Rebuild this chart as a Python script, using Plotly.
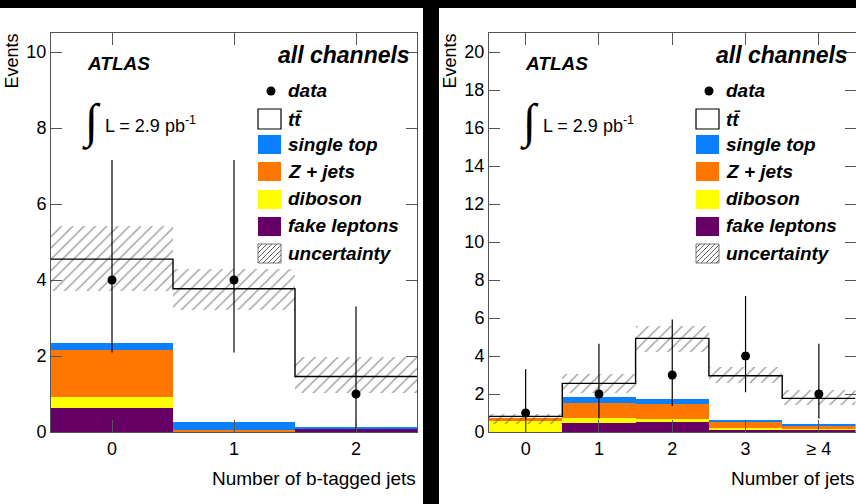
import plotly.graph_objects as go

W, H = 856, 504
FONT = "Liberation Sans, Arial, Helvetica, sans-serif"

# ---------------- data: left panel (number of b-tagged jets) ----------------
btag_bins = [0, 1, 2]
btag_ticktext = ["0", "1", "2"]
btag_data = [4, 4, 1]
btag_data_hi = [7.16, 7.16, 3.30]
btag_data_lo = [2.09, 2.09, 0.0]
btag_fake = [0.62, 0.02, 0.10]
btag_diboson = [0.30, 0.00, 0.00]
btag_zjets = [1.25, 0.04, 0.00]
btag_singletop = [0.16, 0.20, 0.03]
btag_ttbar = [2.22, 3.51, 1.33]
btag_unc_lo = [3.70, 3.21, 1.02]
btag_unc_hi = [5.43, 4.28, 1.98]

# ---------------- data: right panel (number of jets) ----------------
njet_bins = [0, 1, 2, 3, 4]
njet_ticktext = ["0", "1", "2", "3", "\u2265 4"]
njet_data = [1, 2, 3, 4, 2]
njet_data_hi = [3.30, 4.64, 5.92, 7.16, 4.64]
njet_data_lo = [0.0, 0.71, 1.37, 2.09, 0.71]
njet_fake = [0.02, 0.50, 0.52, 0.15, 0.12]
njet_diboson = [0.55, 0.25, 0.14, 0.08, 0.03]
njet_zjets = [0.20, 0.80, 0.80, 0.30, 0.20]
njet_singletop = [0.00, 0.30, 0.26, 0.10, 0.05]
njet_ttbar = [0.05, 0.71, 3.21, 2.33, 1.37]
njet_unc_lo = [0.42, 2.07, 4.19, 2.60, 1.40]
njet_unc_hi = [0.95, 3.03, 5.60, 3.40, 2.20]

legend_labels = ["data", "t\u0074\u0304", "single top", "Z + jets", "diboson", "fake leptons", "uncertainty"]

C_FAKE = "#660066"
C_DIB = "#FFFF00"
C_Z = "#FF7700"
C_ST = "#0A80FF"
FRAME = "#555555"

fig = go.Figure()


def add_panel(xa, ya, bins, data, hi, lo, comps, unc_lo, unc_hi):
    base = [0.0] * len(bins)
    for vals, col in comps:
        fig.add_trace(go.Bar(x=bins, y=vals, base=list(base), width=1.0,
                             marker=dict(color=col, line=dict(width=0)),
                             xaxis=xa, yaxis=ya, showlegend=False))
        base = [b + v for b, v in zip(base, vals)]
    total = base
    # uncertainty hatch
    fig.add_trace(go.Bar(x=bins, y=[h - l for h, l in zip(unc_hi, unc_lo)], base=unc_lo, width=1.0,
                         marker=dict(color="rgba(0,0,0,0)", line=dict(width=0),
                                     pattern=dict(shape="/", fgcolor="#3a3a3a", bgcolor="rgba(0,0,0,0)",
                                                  size=8, solidity=0.17, fillmode="overlay")),
                         xaxis=xa, yaxis=ya, showlegend=False))
    # total step line
    edges = [b - 0.5 for b in bins] + [bins[-1] + 0.5]
    fig.add_trace(go.Scatter(x=edges, y=total + [total[-1]], mode="lines",
                             line=dict(shape="hv", color="black", width=1.4),
                             xaxis=xa, yaxis=ya, showlegend=False, cliponaxis=True))
    # data
    fig.add_trace(go.Scatter(x=bins, y=data, mode="markers",
                             marker=dict(color="black", size=9),
                             error_y=dict(type="data", symmetric=False,
                                          array=[h - d for h, d in zip(hi, data)],
                                          arrayminus=[d - l for d, l in zip(data, lo)],
                                          color="black", thickness=1.2, width=0),
                             xaxis=xa, yaxis=ya, showlegend=False))


add_panel("x", "y", btag_bins, btag_data, btag_data_hi, btag_data_lo,
          [(btag_fake, C_FAKE), (btag_diboson, C_DIB), (btag_zjets, C_Z), (btag_singletop, C_ST),
           (btag_ttbar, "white")], btag_unc_lo, btag_unc_hi)
add_panel("x2", "y2", njet_bins, njet_data, njet_data_hi, njet_data_lo,
          [(njet_fake, C_FAKE), (njet_diboson, C_DIB), (njet_zjets, C_Z), (njet_singletop, C_ST),
           (njet_ttbar, "white")], njet_unc_lo, njet_unc_hi)


def px(x):
    return x / W


def py(y):
    return 1 - y / H


shapes = []
annotations = []

# white panels
shapes.append(dict(type="rect", xref="paper", yref="paper", x0=-0.05, x1=px(423), y0=-0.05, y1=py(8),
                   fillcolor="white", line=dict(width=0), layer="below"))
shapes.append(dict(type="rect", xref="paper", yref="paper", x0=px(439), x1=1.05, y0=-0.05, y1=py(8),
                   fillcolor="white", line=dict(width=0), layer="below"))


def panel_decor(off, xtitle, xtitle_right):
    annotations.append(dict(text="<b><i>ATLAS</i></b>", x=px(85 + off), y=py(63), xanchor="left", yanchor="middle",
                            font=dict(size=19, family=FONT, color="black"), showarrow=False,
                            xref="paper", yref="paper"))
    annotations.append(dict(text="<b><i>all channels</i></b>", x=px(412 + off), y=py(55), xanchor="right",
                            yanchor="middle", font=dict(size=23, family=FONT, color="black"), showarrow=False,
                            xref="paper", yref="paper"))
    # integral L
    annotations.append(dict(text="\u222b", x=px(80 + off), y=py(122), xanchor="left", yanchor="middle",
                            font=dict(size=48, family="Liberation Serif", color="black"), showarrow=False,
                            xref="paper", yref="paper"))
    annotations.append(dict(text="L = 2.9 pb<sup>-1</sup>", x=px(103 + off), y=py(124), xanchor="left",
                            yanchor="middle", font=dict(size=18, family=FONT, color="black"), showarrow=False,
                            xref="paper", yref="paper"))
    # legend
    ys = [90, 119, 144, 171, 199, 226, 253]
    for lab, yy in zip(legend_labels, ys):
        annotations.append(dict(text="<b><i>%s</i></b>" % lab, x=px(286 + off), y=py(yy), xanchor="left",
                                yanchor="middle", font=dict(size=19, family=FONT, color="black"),
                                showarrow=False, xref="paper", yref="paper"))
    sx0, sx1 = px(258 + off), px(281 + off)
    r = 4.5
    shapes.append(dict(type="circle", xref="paper", yref="paper", x0=px(271 + off - r), x1=px(271 + off + r),
                       y0=py(91 + r), y1=py(91 - r), fillcolor="black", line=dict(width=0)))
    boxes = [(109, 129, "white", "black"), (135, 154, C_ST, C_ST), (162, 181, C_Z, C_Z),
             (190, 209, C_DIB, C_DIB), (217, 236, C_FAKE, C_FAKE)]
    for y0, y1, fc, lc in boxes:
        shapes.append(dict(type="rect", xref="paper", yref="paper", x0=sx0, x1=sx1, y0=py(y1), y1=py(y0),
                           fillcolor=fc, line=dict(color=lc, width=1.2 if fc == "white" else 0)))
    # hatched swatch
    hx0, hx1, hy0, hy1 = 258 + off, 281 + off, 244, 263
    shapes.append(dict(type="rect", xref="paper", yref="paper", x0=px(hx0), x1=px(hx1), y0=py(hy1), y1=py(hy0),
                       fillcolor="white", line=dict(color="#777777", width=1)))
    path = ""
    c = hx0 + hy0 + 4
    while c < hx1 + hy1:
        xa_ = max(hx0, c - hy1)
        xb_ = min(hx1, c - hy0)
        if xb_ > xa_:
            path += "M%.5f,%.5f L%.5f,%.5f " % (px(xa_), py(c - xa_), px(xb_), py(c - xb_))
        c += 5
    shapes.append(dict(type="path", xref="paper", yref="paper", path=path, line=dict(color="#555555", width=0.9)))
    # axis titles
    annotations.append(dict(text="Events", x=px(11 + off), y=py(32), xanchor="center", yanchor="top",
                            textangle=-90, font=dict(size=18, family=FONT, color="black"), showarrow=False,
                            xref="paper", yref="paper"))
    annotations.append(dict(text=xtitle, x=px(xtitle_right), y=py(478), xanchor="right", yanchor="middle",
                            font=dict(size=19, family=FONT, color="black"), showarrow=False,
                            xref="paper", yref="paper"))


panel_decor(0, "Number of b-tagged jets", 418)
panel_decor(438, "Number of jets", 857)

axis_common = dict(showline=True, linecolor=FRAME, linewidth=1, mirror="ticks", ticks="inside",
                   tickcolor=FRAME, tickwidth=1, showgrid=False, zeroline=False, automargin=False,
                   tickfont=dict(size=18, family=FONT, color="black"), fixedrange=True)

ydom = [1 - 432 / H, 1 - 33 / H]
fig.update_layout(
    template="none",
    width=W, height=H, autosize=False, margin=dict(l=0, r=0, t=0, b=0, pad=0),
    paper_bgcolor="black", plot_bgcolor="white",
    barmode="overlay", bargap=0, showlegend=False,
    xaxis=dict(domain=[51 / W, 417 / W], range=[-0.5, 2.5], tickvals=btag_bins, ticktext=btag_ticktext,
               ticklen=12, anchor="y", **axis_common),
    yaxis=dict(domain=ydom, range=[0, 10.5], tick0=0, dtick=2, ticklen=11, anchor="x", **axis_common),
    xaxis2=dict(domain=[489 / W, 855.5 / W], range=[-0.5, 4.5], tickvals=njet_bins, ticktext=njet_ticktext,
                ticklen=12, anchor="y2", **axis_common),
    yaxis2=dict(domain=ydom, range=[0, 21], tick0=0, dtick=2, ticklen=11, anchor="x2", **axis_common),
    shapes=shapes, annotations=annotations,
)

fig.write_html("out.html", config={"responsive": False})
